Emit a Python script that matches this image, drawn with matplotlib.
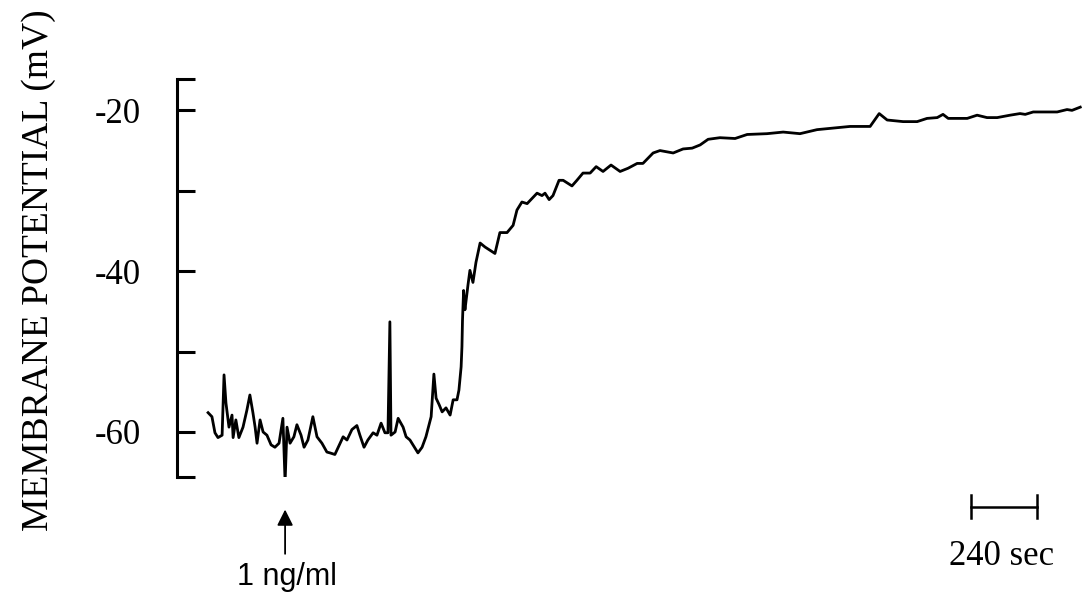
import matplotlib
matplotlib.use('Agg')
import matplotlib.pyplot as plt

# trace: time (s) vs membrane potential (mV)
time_s = [4, 18, 29, 40, 55, 62, 69, 80, 91, 95, 105, 116, 131, 145, 156, 167, 175, 182,
          193, 204, 218, 233, 247, 262, 276, 284, 291, 302, 316, 327, 342, 353, 367, 385,
          400, 418, 436, 447, 465, 476, 495, 509, 527, 545, 556, 571, 585, 604, 618, 633,
          647, 658, 665, 669, 684, 695, 713, 724, 738, 756, 767, 782, 796, 815, 825, 833,
          844, 855, 869, 884, 895, 909, 916, 924, 927, 929, 931, 933, 935, 938, 949, 956,
          967, 978, 993, 1011, 1029, 1047, 1065, 1091, 1113, 1127, 1145, 1164, 1200, 1218,
          1229, 1244, 1258, 1280, 1295, 1327, 1345, 1367, 1393, 1415, 1440, 1469, 1502,
          1531, 1564, 1585, 1622, 1647, 1695, 1731, 1764, 1793, 1822, 1865, 1920, 1964,
          2036, 2095, 2156, 2218, 2276, 2338, 2411, 2444, 2473, 2531, 2582, 2618, 2655,
          2676, 2695, 2764, 2800, 2836, 2873, 2920, 2956, 2975, 3004, 3091, 3127, 3145, 3175]
potential_mv = [-57.6, -58.1, -60.1, -60.7, -60.4, -52.9, -56.4, -59.4, -57.9, -60.7, -58.5,
                -60.7, -59.4, -57.3, -55.4, -57.6, -59.4, -61.4, -58.5, -60.0, -60.4, -61.6,
                -61.9, -61.4, -58.3, -66.2, -59.4, -61.4, -60.6, -59.1, -60.4, -61.9, -61.0,
                -58.1, -60.6, -61.4, -62.5, -62.6, -62.8, -62.0, -60.6, -61.0, -59.7, -59.2,
                -60.4, -61.9, -61.0, -60.1, -60.4, -58.9, -60.1, -60.1, -46.3, -60.4, -60.0,
                -58.3, -59.4, -60.6, -61.0, -62.0, -62.6, -61.9, -60.6, -58.1, -52.8, -55.8,
                -56.6, -57.5, -57.0, -57.9, -56.0, -56.0, -54.8, -51.9, -49.4, -46.1, -44.2,
                -42.4, -43.6, -44.8, -41.7, -39.9, -41.4, -38.9, -36.5, -37.0, -37.4, -37.8,
                -35.2, -35.2, -34.3, -32.4, -31.4, -31.6, -30.3, -30.6, -30.3, -31.1, -30.6,
                -28.7, -28.7, -29.4, -28.7, -27.8, -27.8, -27.0, -27.6, -26.8, -27.6, -27.2,
                -26.6, -26.6, -25.3, -25.0, -25.3, -24.8, -24.7, -24.3, -23.6, -23.4, -23.5,
                -23.0, -22.9, -22.7, -22.9, -22.4, -22.2, -22.0, -22.0, -20.4, -21.2, -21.4,
                -21.4, -21.0, -20.9, -20.5, -21.0, -21.0, -20.6, -20.9, -20.9, -20.6, -20.4,
                -20.5, -20.2, -20.2, -19.9, -20.0, -19.6]

y_ticks = [-16.1, -20, -30, -40, -50, -60, -65.6]
y_labels = ['', '-20', '', '-40', '', '-60', '']

drug_time = 284       # s, application of 1 ng/ml
bar_start = 2778      # s, scale bar
bar_len = 240         # s

SERIF = 'Liberation Serif'
SANS = 'Liberation Sans'

fig = plt.figure(figsize=(10.83, 6), dpi=100, facecolor='white')
ax = fig.add_axes((177/1083, 123/600, 906/1083, 398/600))
ax.set_xlim(-109, 3185)
ax.set_ylim(-65.6, -16.1)

ax.plot(time_s, potential_mv, color='black', lw=2.0, solid_joinstyle='round')

# axis: only a left spine with inward ticks
for side in ('top', 'right', 'bottom'):
    ax.spines[side].set_visible(False)
ax.spines['left'].set_linewidth(2.2)
ax.set_xticks([])
ax.set_yticks(y_ticks)
ax.set_yticklabels(y_labels, fontfamily=SERIF, fontsize=25)
ax.tick_params(axis='y', direction='in', length=13, width=2.2, pad=26)

fig.text(0.036, 0.55, 'MEMBRANE POTENTIAL (mV)', rotation=90, ha='center', va='center',
         fontfamily=SERIF, fontsize=27)

# drug application arrow + label
ax.annotate('', xy=(drug_time, -69.3), xytext=(drug_time, -75.5),
            arrowprops=dict(arrowstyle='-|>', color='black', lw=1.3, mutation_scale=24),
            annotation_clip=False)
ax.text(drug_time + 8, -78.0, '1 ng/ml', ha='center', va='center',
        fontfamily=SANS, fontsize=22, clip_on=False)

# time scale bar
bx = [bar_start, bar_start + bar_len]
ax.plot(bx, [-69.3, -69.3], color='black', lw=1.8, clip_on=False)
for x in bx:
    ax.plot([x, x], [-67.8, -70.7], color='black', lw=1.8, clip_on=False)
ax.text(bar_start + bar_len / 2 - 10, -75.5, '240 sec', ha='center', va='center',
        fontfamily=SERIF, fontsize=25, clip_on=False)

fig.savefig('out.png', dpi=100, facecolor='white')
